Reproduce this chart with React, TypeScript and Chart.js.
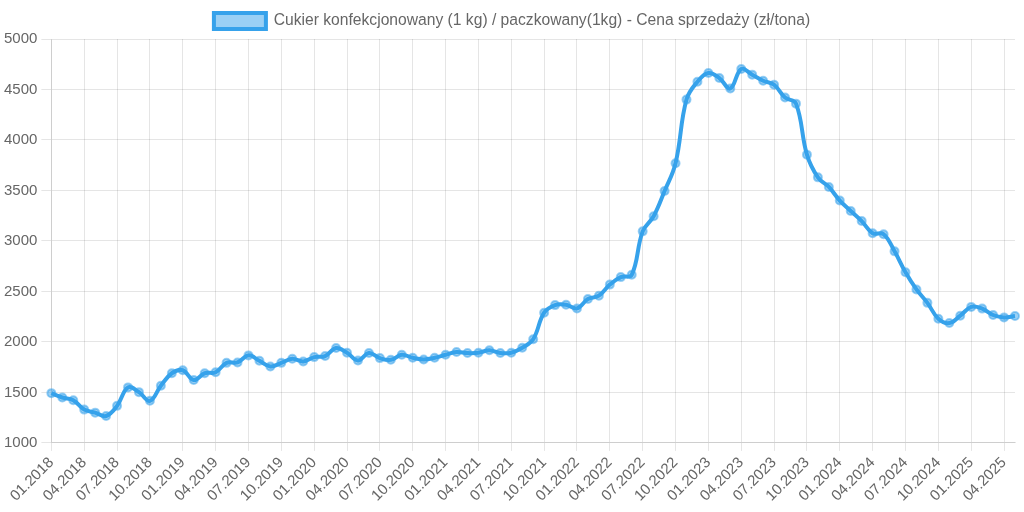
import React, { useEffect, useRef } from "react";
import { Chart, registerables } from "chart.js";

Chart.register(...registerables);

const seriesLabel = "Cukier konfekcjonowany (1 kg) / paczkowany(1kg) - Cena sprzedaży (zł/tona)";

const startYear = 2018;
const monthCount = 89;

const months: string[] = [];
for (let i = 0; i < monthCount; i++) {
  const m = (i % 12) + 1;
  const y = startYear + Math.floor(i / 12);
  months.push((m < 10 ? "0" + m : "" + m) + "." + y);
}

const prices: number[] = [
  1493, 1450, 1423, 1330, 1300, 1267, 1367, 1550, 1503, 1417, 1567, 1690,
  1720, 1623, 1690, 1700, 1793, 1797, 1867, 1813, 1757, 1793, 1833, 1807,
  1850, 1860, 1940, 1893, 1817, 1890, 1840, 1823, 1873, 1843, 1827, 1843,
  1873, 1900, 1890, 1893, 1917, 1890, 1893, 1943, 2027, 2290, 2365, 2368,
  2332, 2425, 2458, 2568, 2642, 2665, 3095, 3245, 3495, 3770, 4400, 4577,
  4663, 4613, 4510, 4703, 4647, 4587, 4547, 4420, 4360, 3855, 3630, 3535,
  3400, 3297, 3197, 3077, 3067, 2897, 2690, 2520, 2387, 2230, 2187, 2260,
  2347, 2330, 2267, 2243, 2257,
];

const yMin = 1000;
const yMax = 5000;
const yStep = 500;

const blue = "rgb(54,162,235)";
const blueLight = "rgba(54,162,235,0.5)";
const fontFamily = "'Liberation Sans', Arial, sans-serif";

export default function App() {
  const ref = useRef<HTMLCanvasElement | null>(null);
  useEffect(() => {
    document.body.style.margin = "0";
    const ctx = ref.current!;
    const chart = new Chart(ctx, {
      type: "line",
      data: {
        labels: months,
        datasets: [
          {
            label: seriesLabel,
            data: prices,
            borderColor: blue,
            backgroundColor: blueLight,
            borderWidth: 4,
            pointRadius: 4,
            pointBorderWidth: 2,
            pointBackgroundColor: blueLight,
            pointBorderColor: blueLight,
            tension: 0.4,
            fill: false,
          },
        ],
      },
      options: {
        animation: false,
        responsive: false,
        maintainAspectRatio: false,
        layout: { padding: { top: 0, left: 0, right: 0, bottom: 4 } },
        plugins: {
          legend: {
            display: true,
            position: "top",
            labels: {
              color: "#666",
              font: { family: fontFamily, size: 15.65 },
              boxWidth: 52,
              boxHeight: 16,
              padding: 13,
            },
          },
          tooltip: { enabled: false },
        },
        scales: {
          x: {
            afterFit: (s: any) => {
              s.paddingRight = 9;
            },
            grid: {
              color: (c: any) => (c.index % 3 === 0 ? "rgba(0,0,0,0.1)" : "rgba(0,0,0,0)"),
            },
            ticks: {
              autoSkip: false,
              maxRotation: 45,
              minRotation: 45,
              color: "#666",
              font: { family: fontFamily, size: 15 },
              callback: (_v: any, i: number) => (i % 3 === 0 ? months[i] : ""),
            },
          },
          y: {
            min: yMin,
            max: yMax,
            grid: { color: "rgba(0,0,0,0.1)", tickLength: 10 },
            ticks: {
              stepSize: yStep,
              padding: 4,
              color: "#666",
              font: { family: fontFamily, size: 15 },
              callback: (v: any) => String(v),
            },
          },
        },
      },
    });
    return () => chart.destroy();
  }, []);
  return (
    <div style={{ position: "absolute", left: 0, top: 0, width: 1024, height: 512 }}>
      <canvas ref={ref} width={1024} height={512} style={{ width: 1024, height: 512 }} />
    </div>
  );
}
